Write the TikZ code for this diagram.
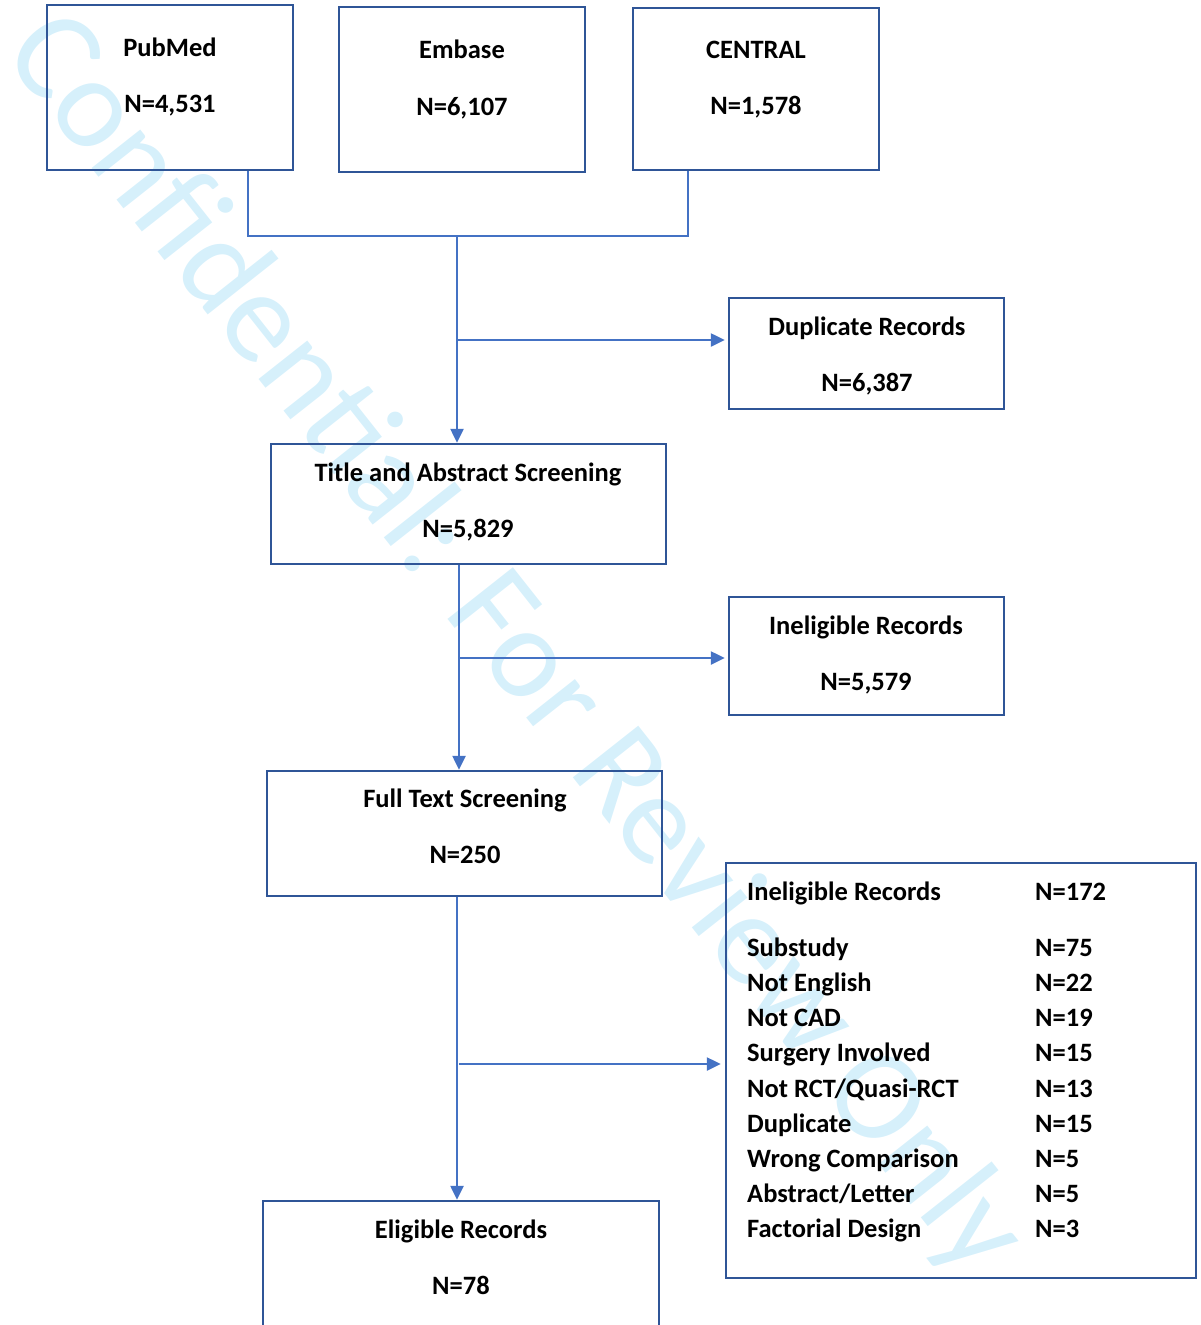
\documentclass[tikz,border=0pt]{standalone}
\usepackage{fontspec}
\setmainfont{Carlito}
\usetikzlibrary{arrows.meta}
\definecolor{boxblue}{RGB}{47,85,151}
\definecolor{linkblue}{RGB}{68,114,196}
\definecolor{wmcol}{RGB}{214,240,251}
\begin{document}
\begin{tikzpicture}[x=1pt,y=-1pt,
  box/.style={draw=boxblue,line width=2.5pt,inner sep=0pt},
  txt/.style={font=\bfseries\fontsize{26.5}{30}\selectfont,inner sep=0pt,anchor=base},
  ltxt/.style={font=\bfseries\fontsize{26.5}{30}\selectfont,inner sep=0pt,anchor=base west},
  link/.style={draw=linkblue,line width=2.5pt},
  arr/.style={link,-{Triangle[length=14pt,width=13pt]}}]
\useasboundingbox (0,0) rectangle (1201,1325);
% watermark
\node[font=\fontsize{130}{130}\selectfont,text=wmcol,rotate=-51.7,anchor=base,inner sep=0pt] (wmk) at (486,667) {Confidential: For Review Only};
% source boxes
\node[box,minimum width=246pt,minimum height=165pt] (pub) at (170,87.5) {};
\node[box,minimum width=246pt,minimum height=165pt] (emb) at (462,89.5) {};
\node[box,minimum width=246pt,minimum height=162pt] (cen) at (756,89) {};
\node[txt] (pubt) at (170,56) {PubMed};
\node[txt] (pubn) at (170,112) {N=4,531};
\node[txt] (embt) at (462,58) {Embase};
\node[txt] (embn) at (462,115) {N=6,107};
\node[txt] (cent) at (756,58) {CENTRAL};
\node[txt] (cenn) at (756,114) {N=1,578};
% duplicate
\node[box,minimum width=275pt,minimum height=111pt] (dup) at (866.5,353.5) {};
\node[txt] (dupt) at (867,335) {Duplicate Records};
\node[txt] (dupn) at (867,391) {N=6,387};
% title and abstract
\node[box,minimum width=395pt,minimum height=120pt] (tas) at (468.5,504) {};
\node[txt] (tast) at (468,481) {Title and Abstract Screening};
\node[txt] (tasn) at (468,537) {N=5,829};
% ineligible
\node[box,minimum width=275pt,minimum height=118pt] (inel) at (866.5,656) {};
\node[txt] (inelt) at (866,634) {Ineligible Records};
\node[txt] (ineln) at (866,690) {N=5,579};
% full text
\node[box,minimum width=395pt,minimum height=125pt] (full) at (464.5,833.5) {};
\node[txt] (fullt) at (465,807) {Full Text Screening};
\node[txt] (fulln) at (465,863) {N=250};
% eligible (cut off by page)
\node[box,minimum width=396pt,minimum height=160pt] (elig) at (461,1281) {};
\node[txt] (eligt) at (461,1238) {Eligible Records};
\node[txt] (eligr) at (461,1294) {N=78};
% big exclusion box
\node[box,minimum width=470pt,minimum height=415pt] (excl) at (961,1070.5) {};
\node[ltxt] (e0) at (747,900) {Ineligible Records};
\node[ltxt] (n0) at (1035,900) {N=172};
\node[ltxt] (e1) at (747,956) {Substudy};
\node[ltxt] (n1) at (1035,956) {N=75};
\node[ltxt] (e2) at (747,991) {Not English};
\node[ltxt] (n2) at (1035,991) {N=22};
\node[ltxt] (e3) at (747,1026) {Not CAD};
\node[ltxt] (n3) at (1035,1026) {N=19};
\node[ltxt] (e4) at (747,1061) {Surgery Involved};
\node[ltxt] (n4) at (1035,1061) {N=15};
\node[ltxt] (e5) at (747,1097) {Not RCT/Quasi-RCT};
\node[ltxt] (n5) at (1035,1097) {N=13};
\node[ltxt] (e6) at (747,1132) {Duplicate};
\node[ltxt] (n6) at (1035,1132) {N=15};
\node[ltxt] (e7) at (747,1167) {Wrong Comparison};
\node[ltxt] (n7) at (1035,1167) {N=5};
\node[ltxt] (e8) at (747,1202) {Abstract/Letter};
\node[ltxt] (n8) at (1035,1202) {N=5};
\node[ltxt] (e9) at (747,1237) {Factorial Design};
\node[ltxt] (n9) at (1035,1237) {N=3};
% junction coordinates
\coordinate (jl) at (248,236);
\coordinate (jr) at (688,236);
\coordinate (jm) at (457,236);
\coordinate (b1) at (457,340);
\coordinate (b2) at (459,658);
\coordinate (b3) at (459,1064);
% connectors
\draw[link] (pub.south -| jl) -- (jl) -- (jr) -- (cen.south -| jr);
\draw[arr] (jm) -- (tas.north -| jm);
\draw[arr,shorten >=3pt] (b1) -- (dup.west |- b1);
\draw[arr] (tas.south -| b2) -- (full.north -| b2);
\draw[arr,shorten >=3pt] (b2) -- (inel.west |- b2);
\draw[arr] (full.south -| jm) -- (elig.north -| jm);
\draw[arr,shorten >=4pt] (b3) -- (excl.west |- b3);
\end{tikzpicture}
\end{document}
